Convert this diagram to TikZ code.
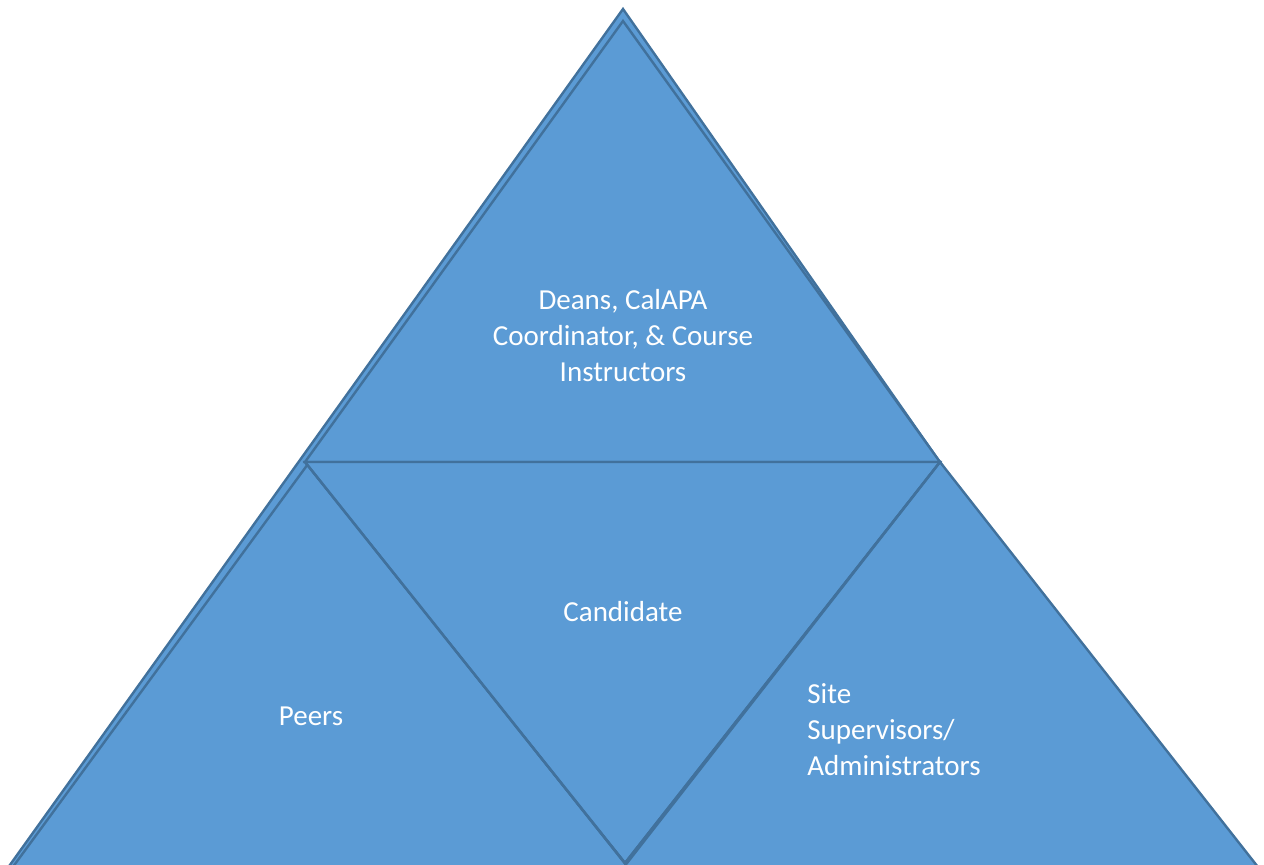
\documentclass[tikz,border=0pt]{standalone}
\usepackage{fontspec}
\setmainfont{Carlito}
\begin{document}
\begin{tikzpicture}[x=0.5pt,y=-0.5pt,
  tri/.style={fill=triblue,draw=triedge,line width=1.2pt,line join=miter},
  lbl/.style={text=white,font=\fontsize{14.5pt}{18pt}\selectfont,align=center,inner sep=0pt}]
\definecolor{triblue}{HTML}{5B9BD5}
\definecolor{triedge}{HTML}{41719C}
\useasboundingbox (0,0) rectangle (1264,865);
\clip (0,0) rectangle (1264,865);
% outer frame triangle
\coordinate (oA) at (623,9);
\coordinate (oL) at (-8,890);
\coordinate (oR) at (1239,890);
\draw[tri] (oA) -- (oL) -- (oR) -- cycle;
% top block
\coordinate (tA) at (623,21);
\coordinate (tL) at (305,462);
\coordinate (tR) at (940,462);
\draw[tri] (tA) -- (tL) -- (tR) -- cycle;
% lower-left block
\coordinate (lA) at (308,464);
\coordinate (lL) at (-4,890);
\coordinate (lR) at (646,890);
\draw[tri] (lA) -- (lL) -- (lR) -- cycle;
% centre (inverted) block
\coordinate (cB) at (625,863);
\draw[tri] (tL) -- (tR) -- (cB) -- cycle;
% lower-right block
\coordinate (rL) at (606,890);
\coordinate (rR) at (1276,890);
\draw[tri] (tR) -- (rL) -- (rR) -- cycle;
% redraw centre outline over the neighbours
\draw[draw=triedge,line width=1.2pt] (tL) -- (cB) -- (tR);
% labels
\node[lbl] (top) at (623,336) {Deans, CalAPA\\Coordinator, \& Course\\Instructors};
\node[lbl] (cand) at (623,612) {Candidate};
\node[lbl] (peers) at (311,716) {Peers};
\node[lbl,align=left,anchor=west] (site) at (807,730) {Site\\Supervisors/\\Administrators};
\end{tikzpicture}
\end{document}
